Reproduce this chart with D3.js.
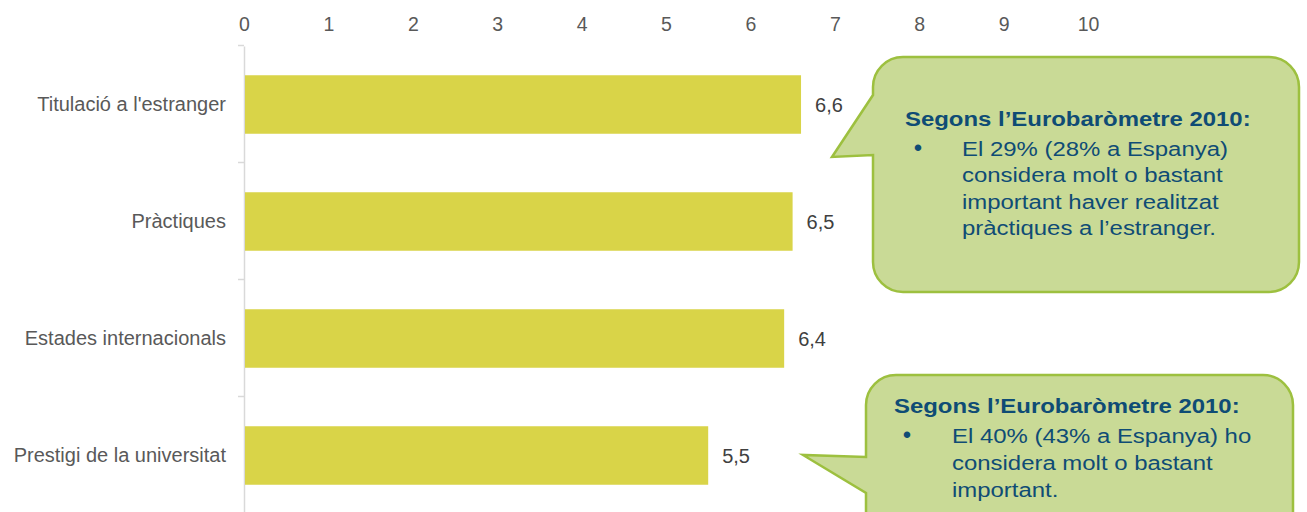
<!DOCTYPE html>
<html>
<head>
<meta charset="utf-8">
<script src="https://cdn.jsdelivr.net/npm/d3@7"></script>
<style>
  html, body { margin: 0; padding: 0; background: #ffffff; }
  svg { display: block; font-family: "Liberation Sans", Arial, sans-serif; }
</style>
</head>
<body>
<svg id="chart" width="1307" height="512"></svg>
<script>
// Valoració de factors (escala 0-10)
const categories = ["Titulació a l'estranger", "Pràctiques", "Estades internacionals", "Prestigi de la universitat"];
const values = [6.6, 6.5, 6.4, 5.5];
const tickValues = [0, 1, 2, 3, 4, 5, 6, 7, 8, 9, 10];

// Notes de l'Eurobaròmetre
const noteTitle = "Segons l\u2019Eurobaròmetre 2010:";
const noteA = ["El 29% (28% a Espanya)", "considera molt o bastant", "important haver realitzat", "pràctiques a l\u2019estranger."];
const noteB = ["El 40% (43% a Espanya) ho", "considera molt o bastant", "important."];

const svg = d3.select("#chart");
const FONT = "'Liberation Sans', Arial, sans-serif";
const fmt = v => d3.format(".1f")(v).replace(".", ",");

const x = d3.scaleLinear().domain([0, 10]).range([244, 1088]);
const y = d3.scaleBand().domain(categories).range([46, 514]).paddingInner(0.5).paddingOuter(0.25);

// top tick labels
const xAxis = svg.append("g")
  .attr("transform", "translate(0,31)")
  .call(d3.axisTop(x).tickValues(tickValues).tickSize(0).tickPadding(0).tickFormat(d3.format("d")));
xAxis.select(".domain").remove();
xAxis.selectAll("text").attr("font-size", 19.5).attr("fill", "#595959")
  .attr("font-family", FONT).attr("dy", 0);

// category axis
const yAxis = svg.append("g")
  .attr("transform", `translate(${x(0)},0)`)
  .call(d3.axisLeft(y).tickSize(0).tickPadding(18));
yAxis.select(".domain").attr("stroke", "#d9d9d9").attr("stroke-width", 1.5);
yAxis.selectAll("text").attr("font-size", 20).attr("fill", "#595959")
  .attr("font-family", FONT);

// separator ticks between categories
svg.append("g").selectAll("line")
  .data(categories)
  .join("line")
  .attr("x1", x(0) - 6).attr("x2", x(0))
  .attr("y1", d => y(d) - y.bandwidth() * 0.5 - 0.5)
  .attr("y2", d => y(d) - y.bandwidth() * 0.5 - 0.5)
  .attr("stroke", "#d9d9d9").attr("stroke-width", 1.5);

// bars
svg.append("g").selectAll("rect")
  .data(values)
  .join("rect")
  .attr("x", x(0) + 1)
  .attr("y", (d, i) => y(categories[i]))
  .attr("width", d => x(d) - x(0) - 1)
  .attr("height", y.bandwidth())
  .attr("fill", "#d9d448");

// value labels
svg.append("g").selectAll("text")
  .data(values)
  .join("text")
  .attr("x", d => x(d) + 14)
  .attr("y", (d, i) => y(categories[i]) + y.bandwidth() / 2)
  .attr("dy", "0.35em")
  .attr("font-size", 20)
  .attr("font-family", FONT)
  .attr("fill", "#404040")
  .text(d => fmt(d));

// rounded callout with a pointer on its left edge
function callout(g, x0, y0, x1, y1, r, p0, p1, tx, ty) {
  const p = d3.path();
  p.moveTo(x0 + r, y0);
  p.lineTo(x1 - r, y0);
  p.arcTo(x1, y0, x1, y0 + r, r);
  p.lineTo(x1, y1 - r);
  p.arcTo(x1, y1, x1 - r, y1, r);
  p.lineTo(x0 + r, y1);
  p.arcTo(x0, y1, x0, y1 - r, r);
  p.lineTo(x0, p1);
  p.lineTo(tx, ty);
  p.lineTo(x0, p0);
  p.lineTo(x0, y0 + r);
  p.arcTo(x0, y0, x0 + r, y0, r);
  p.closePath();
  g.append("path").attr("d", p.toString())
    .attr("fill", "#c9da96").attr("stroke", "#9dc03f").attr("stroke-width", 2.5)
    .attr("stroke-linejoin", "miter");
}

// text in the callouts is slightly widened
const SX = 1.14;
function wideText(g, tx, ty, str, size, weight) {
  return g.append("text")
    .attr("transform", `translate(${tx},${ty}) scale(${SX},1)`)
    .attr("font-size", size).attr("font-weight", weight || "normal")
    .attr("font-family", FONT).attr("fill", "#0f4c75")
    .text(str);
}

function noteText(g, titleX, titleY, bulletX, bodyX, bodyY, lines, lh) {
  wideText(g, titleX, titleY, noteTitle, 21, "bold");
  g.append("text").attr("x", bulletX).attr("y", bodyY)
    .attr("font-size", 24).attr("fill", "#0f4c75").attr("text-anchor", "middle")
    .attr("font-family", FONT)
    .text("\u2022");
  lines.forEach((d, i) => wideText(g, bodyX, bodyY + i * lh, d, 21));
}

const gA = svg.append("g");
callout(gA, 873, 57, 1299, 292, 30, 95, 155, 832, 157);
noteText(gA, 905, 126, 918, 962, 156, noteA, 26.3);

const gB = svg.append("g");
callout(gB, 866, 375, 1293, 560, 30, 457, 493, 803, 455);
noteText(gB, 894, 413, 907, 952, 443, noteB, 27);
</script>
</body>
</html>
